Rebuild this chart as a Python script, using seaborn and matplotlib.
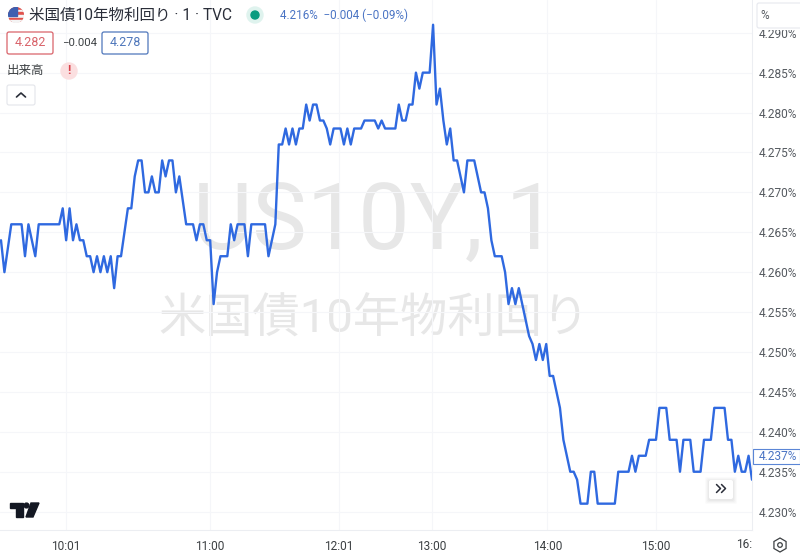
import matplotlib
matplotlib.use("Agg")
import matplotlib.pyplot as plt
import numpy as np
import pandas as pd
import seaborn as sns
from matplotlib.patches import Circle, FancyBboxPatch, Polygon, RegularPolygon, Rectangle

# yield per 1-minute bar, in thousandths above 4.000
yield_thou = [
    264, 260, 263, 266, 266, 266, 266, 262, 266, 264, 262, 266, 266, 266, 266, 266, 266, 266, 268, 264,
    268, 264, 266, 264, 264, 262, 262, 260, 262, 260, 262, 260, 262, 258, 262, 262, 265, 268, 268, 272,
    274, 274, 270, 270, 272, 270, 270, 274, 272, 274, 274, 270, 272, 269, 266, 266, 266, 264, 266, 266,
    264, 264, 256, 260, 262, 262, 262, 266, 264, 266, 266, 266, 262, 266, 266, 266, 266, 266, 262, 264,
    266, 276, 276, 278, 276, 278, 276, 278, 278, 281, 279, 281, 281, 279, 279, 278, 276, 278, 278, 278,
    276, 278, 276, 278, 278, 278, 279, 279, 279, 279, 278, 279, 278, 278, 278, 278, 281, 279, 279,
    281, 281, 285, 283, 285, 285, 285, 291, 281, 283, 279, 276, 278, 274, 274, 272, 270, 274, 274, 274, 272,
    270, 270, 268, 264, 262, 262, 262, 260, 256, 258, 256, 258, 256, 254, 252, 251, 249, 251, 249, 251,
    247, 247, 245, 243, 239, 237, 235, 235, 234, 231, 231, 231, 235, 235, 231, 231, 231, 231, 231, 231,
    235, 235, 235, 235, 237, 235, 237, 237, 237, 239, 239, 239, 243, 243, 243, 239, 239, 239, 235, 239,
    239, 239, 235, 235, 235, 239, 239, 239, 243, 243, 243, 243, 239, 239, 235, 237, 235, 235, 237, 234,
]
time_bars = [19, 61, 98.5, 125.7, 159.3, 191]
time_labels = ["10:01", "11:00", "12:01", "13:00", "14:00", "15:00"]
price_ticks = [4.230, 4.235, 4.240, 4.245, 4.250, 4.255, 4.260, 4.265, 4.270, 4.275, 4.280, 4.285, 4.290]

LINE = "#2f69e0"
GRID = "#f5f6f9"
BLUE_TXT = "#4a74c4"
GREY = "#555a60"
FONT = ["Roboto", "Noto Sans CJK JP", "DejaVu Sans"]

sns.set_theme(style="white")
plt.rcParams["font.family"] = FONT

fig = plt.figure(figsize=(8, 5.55), dpi=100)


def pixel_axes(zorder):
    a = fig.add_axes([0, 0, 1, 1], zorder=zorder)
    a.set_xlim(0, 800)
    a.set_ylim(555, 0)
    a.axis("off")
    return a


# watermark sits under the chart
back = pixel_axes(0)
back.text(375, 224, "US10Y, 1", fontsize=66, color="#e7e7e7", ha="center", va="center")
back.text(374, 319, "米国債10年物利回り", fontsize=34, color="#e7e7e7", ha="center", va="center")

ax = fig.add_axes([0, 25 / 555, 752 / 800, 530 / 555], zorder=1)
ax.patch.set_visible(False)
df = pd.DataFrame({"bar": np.arange(len(yield_thou)), "value": [4 + v / 1000 for v in yield_thou]})
sns.lineplot(data=df, x="bar", y="value", color=LINE, linewidth=1.7, ax=ax)
ax.set_xlim(-0.29, 219)
ax.set_ylim(4.2277, 4.2941)
ax.set_xlabel("")
ax.set_ylabel("")
ax.set_xticks(time_bars)
ax.set_xticklabels(time_labels)
ax.set_yticks(price_ticks)
ax.set_yticklabels([f"{p:.3f}%" for p in price_ticks])
ax.yaxis.tick_right()
ax.tick_params(axis="y", length=0, pad=5, labelsize=8.6, labelcolor=GREY)
ax.tick_params(axis="x", length=0, pad=7, labelsize=8.6, labelcolor="#3c4043")
ax.grid(True, color=GRID, linewidth=0.75)
for side in ["top", "left"]:
    ax.spines[side].set_visible(False)
for side in ["right", "bottom"]:
    ax.spines[side].set_color("#eceef2")
    ax.spines[side].set_linewidth(0.75)

ui = pixel_axes(2)

# title row
flag = Circle((16, 15), 8, transform=ui.transData)
for top, col in [(7, "#e0524d"), (10, "#f4f4f4"), (12, "#e0524d"), (15, "#f4f4f4"), (18, "#e0524d"), (20, "#f4f4f4")]:
    r = Rectangle((8, top), 16, 3, color=col, zorder=2)
    ui.add_patch(r)
    r.set_clip_path(flag)
canton = Rectangle((8, 7), 9, 9, color="#3d5fb0", zorder=3)
ui.add_patch(canton)
canton.set_clip_path(flag)
ui.text(29, 15, "米国債10年物利回り · 1 · TVC", fontsize=11.2, color="#2a2e39", va="center")
ui.add_patch(Circle((255, 15), 8, color="#dff3ee"))
ui.add_patch(Circle((255, 15), 4, color="#0b9c80"))
ui.text(280, 15, "4.216%  −0.004 (−0.09%)", fontsize=8.4, color=BLUE_TXT, va="center")


def price_box(x, w, y, h, edge, label):
    ui.add_patch(FancyBboxPatch((x + 2, y + 2), w - 4, h - 4, boxstyle="round,pad=2", fc="white", ec=edge, lw=0.9))
    ui.text(x + w / 2, y + h / 2, label, fontsize=9, color=edge, ha="center", va="center")


price_box(7, 46, 32, 22, "#d9636a", "4.282")
price_box(102, 46, 32, 22, "#4f77bb", "4.278")
ui.text(62, 43.5, "−0.004", fontsize=8.2, color="#3c4043", va="center")
ui.text(7, 70.5, "出来高", fontsize=9, color="#3c4043", va="center")
ui.add_patch(Circle((69, 71), 8, color="#fbdfe0"))
ui.text(69, 70.5, "!", fontsize=9, color="#d9434c", ha="center", va="center", fontweight="bold")
ui.add_patch(FancyBboxPatch((9, 87), 24, 16, boxstyle="round,pad=2", fc="white", ec="#e3e5ea", lw=0.8))
ui.plot([16.5, 21, 25.5], [97, 93, 97], color="#2a2e39", lw=1.2)

# right axis chrome: the unit box hides the top half of the 4.290% label
ui.add_patch(Rectangle((753, 0), 47, 30, fc="white", ec="none"))
ui.add_patch(FancyBboxPatch((759, 5), 50, 21, boxstyle="round,pad=2", fc="white", ec="#e6e8ee", lw=0.8))
ui.text(760, 15.5, "%", fontsize=8.6, color=GREY, va="center")
ui.add_patch(Rectangle((753, 448.5), 47, 15, fc="white", ec="#5b86d6", lw=0.8))
ui.text(759, 456, "4.237%", fontsize=8.6, color=BLUE_TXT, va="center")

# scroll-to-end button
for grow, alpha in [(4, 0.04), (3, 0.05), (2, 0.06), (1, 0.08)]:
    ui.add_patch(FancyBboxPatch((711 - grow, 482 - grow + 1), 20 + 2 * grow, 15 + 2 * grow,
                                boxstyle="round,pad=2", fc="#9a9a9a", ec="none", alpha=alpha))
ui.add_patch(FancyBboxPatch((711, 482), 20, 15, boxstyle="round,pad=2", fc="white", ec="none"))
ui.plot([716.5, 720.5, 716.5], [484.5, 488.5, 492.5], color="#2a2e39", lw=1.1)
ui.plot([721.5, 725.5, 721.5], [484.5, 488.5, 492.5], color="#2a2e39", lw=1.1)

# tradingview mark
ui.add_patch(Polygon([(10, 503), (23, 503), (23, 517), (16, 517), (16, 508), (10, 508)], color="#131722"))
ui.add_patch(Circle((26.5, 505.5), 2.4, color="#131722"))
ui.add_patch(Polygon([(31, 503), (39, 503), (33, 517), (26, 517)], color="#131722"))

# clipped last time label and settings icon
ui.text(752, 545, "16:", fontsize=8.6, color="#3c4043", ha="right", va="center")
ui.add_patch(RegularPolygon((780, 545), 6, radius=7, fc="none", ec="#3c4043", lw=0.9))
ui.add_patch(Circle((780, 545), 2.3, fc="none", ec="#3c4043", lw=0.9))

fig.savefig("out.png", dpi=100)
